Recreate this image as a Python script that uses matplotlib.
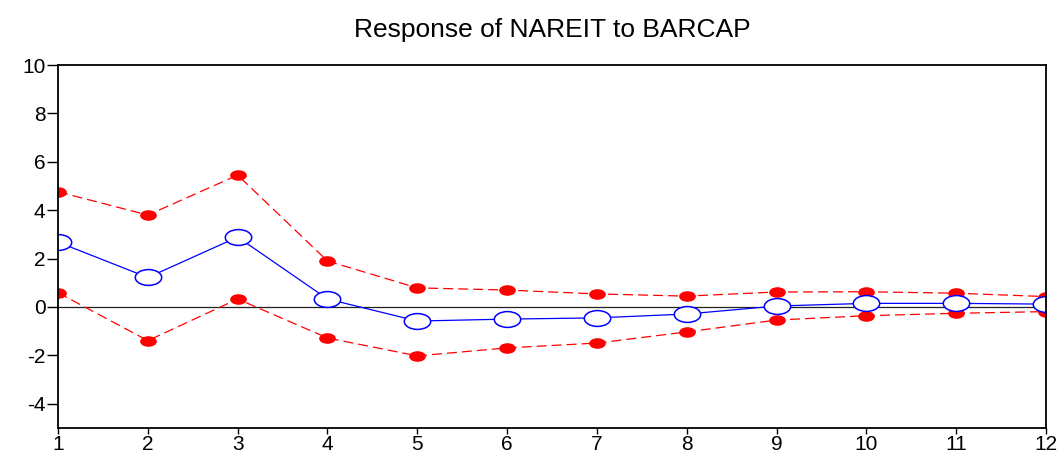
import matplotlib.pyplot as plt
from matplotlib.path import Path
from matplotlib.transforms import Affine2D

plt.rcParams['font.family'] = ['Liberation Sans', 'DejaVu Sans']
plt.rcParams['axes.unicode_minus'] = False

periods = list(range(1, 13))
response = [2.68, 1.22, 2.89, 0.33, -0.58, -0.50, -0.45, -0.29, 0.04, 0.15, 0.15, 0.12]
upper = [4.76, 3.80, 5.45, 1.90, 0.79, 0.70, 0.54, 0.45, 0.62, 0.63, 0.57, 0.43]
lower = [0.59, -1.39, 0.33, -1.28, -2.02, -1.69, -1.49, -1.03, -0.54, -0.36, -0.26, -0.19]
yticks = [-4, -2, 0, 2, 4, 6, 8, 10]

# flattened circle, like the stretched eviews markers
ell = Path.unit_circle().transformed(Affine2D().scale(1.0, 0.6))

fig = plt.figure(figsize=(10.63, 4.53), dpi=100)
ax = fig.add_axes([0.0546, 0.0552, 0.9294, 0.8013])

ax.axhline(0, color='#222222', lw=0.9)
for band in (upper, lower):
    ax.plot(periods, band, color='red', ls='--', dashes=(8, 4), lw=0.9,
            marker=ell, ms=11, mfc='red', mec='red')
ax.plot(periods, response, color='blue', lw=0.9,
        marker=ell, ms=19, mfc='white', mec='blue', mew=1.1)

ax.set_xlim(1, 12)
ax.set_ylim(-5, 10)
ax.set_xticks(periods)
ax.set_yticks(yticks)
ax.tick_params(axis='y', direction='out', length=8, width=1, labelsize=15, pad=1)
ax.tick_params(axis='x', direction='out', length=4, width=1, labelsize=15, pad=1)
for s in ax.spines.values():
    s.set_linewidth(1.3)
ax.set_title('Response of NAREIT to BARCAP', fontsize=19, pad=20)

fig.savefig('out.png')
